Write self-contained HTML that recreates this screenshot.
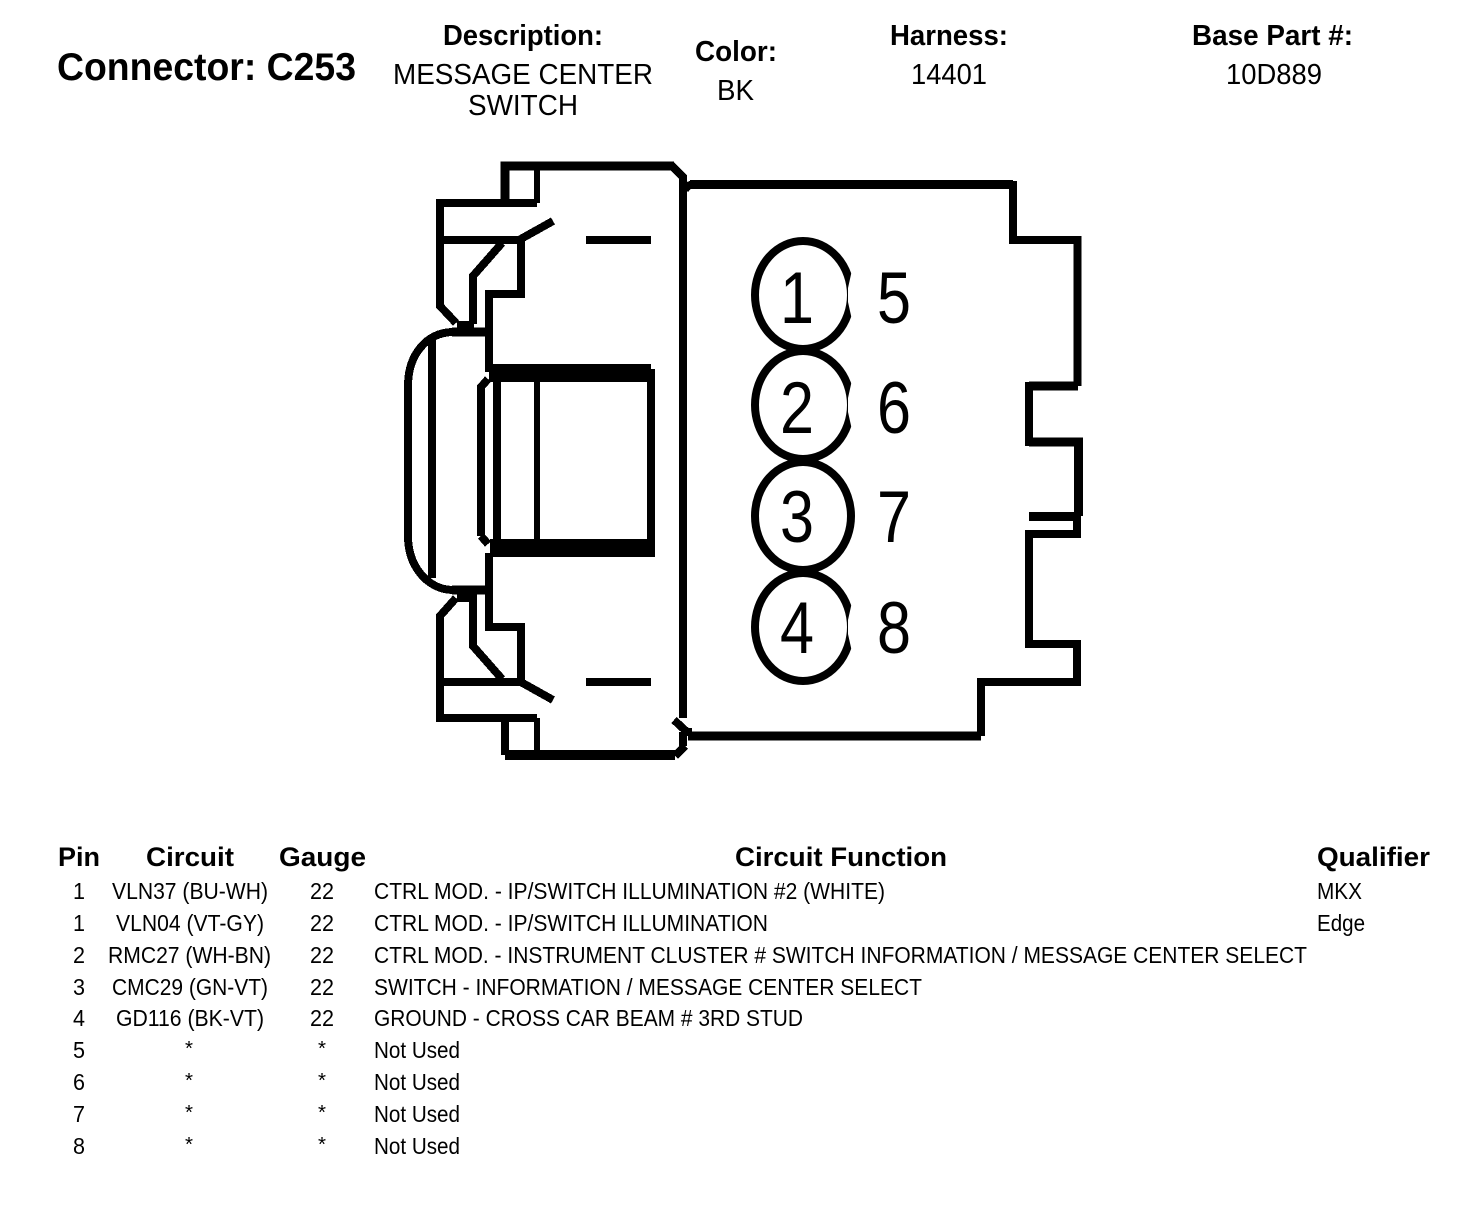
<!DOCTYPE html>
<html lang="en">
<head>
<meta charset="utf-8">
<title>Connector C253</title>
<style>
html,body{margin:0;padding:0;background:#fff;}
svg{display:block;}
text{font-family:"Liberation Sans",Arial,sans-serif;fill:#000;}
.b{font-weight:bold;}
.h{font-size:29px;}
.t{font-size:23px;}
.s{font-size:20px;}
.d{font-size:73px;}
</style>
</head>
<body>
<svg width="1472" height="1212" viewBox="0 0 1472 1212" xmlns="http://www.w3.org/2000/svg">
<rect width="1472" height="1212" fill="#fff"/>

<!-- Header -->
<text class="b" x="57" y="80" font-size="39" textLength="299" lengthAdjust="spacingAndGlyphs">Connector: C253</text>
<text class="b h" x="443" y="45" textLength="160" lengthAdjust="spacingAndGlyphs">Description:</text>
<text class="h" x="393" y="84" textLength="260" lengthAdjust="spacingAndGlyphs">MESSAGE CENTER</text>
<text class="h" x="468" y="115" textLength="110" lengthAdjust="spacingAndGlyphs">SWITCH</text>
<text class="b h" x="695" y="61" textLength="82" lengthAdjust="spacingAndGlyphs">Color:</text>
<text class="h" x="717" y="100" textLength="37" lengthAdjust="spacingAndGlyphs">BK</text>
<text class="b h" x="890" y="45" textLength="118" lengthAdjust="spacingAndGlyphs">Harness:</text>
<text class="h" x="911" y="84" textLength="76" lengthAdjust="spacingAndGlyphs">14401</text>
<text class="b h" x="1192" y="45" textLength="161" lengthAdjust="spacingAndGlyphs">Base Part #:</text>
<text class="h" x="1226" y="84" textLength="96" lengthAdjust="spacingAndGlyphs">10D889</text>

<!-- Connector outline -->
<g fill="none" stroke="#000" stroke-linejoin="miter" stroke-linecap="butt" shape-rendering="crispEdges">
  <!-- top -->
  <path stroke-width="9" d="M505,203 V166 H674"/>
  <path stroke-width="8" d="M671,165 L683,177 V718"/>
  <path stroke-width="6" d="M537,166 V203"/>
  <path stroke-width="8" d="M537,203 H440 V306 L456,323"/>
  <path stroke-width="8" d="M440,240 H521"/>
  <path stroke-width="8" d="M519,240 L553,221"/>
  <path stroke-width="8" d="M521,240 V294 H489 V372"/>
  <path stroke-width="8" d="M502,243 L473,276 V324"/>
  <rect x="457" y="321" width="17" height="9" fill="#000" stroke="none"/>
  <path stroke-width="9" d="M489,332 H452"/>
  <path stroke-width="8" d="M452,332 C427,333 408,354 408,386 V536 C408,566 427,589 452,590"/>
  <path stroke-width="8" d="M432,340 V578"/>
  <path stroke-width="9" d="M489,590 H452"/>

  <!-- dashes -->
  <path stroke-width="8" d="M586,240 H651"/>
  <path stroke-width="8" d="M586,682 H651"/>

  <!-- inner window -->
  <rect x="489" y="364" width="162" height="18" fill="#000" stroke="none"/>
  <rect x="490" y="539" width="165" height="18" fill="#000" stroke="none"/>
  <path stroke-width="8" d="M651,369 V552"/>
  <path stroke-width="8" d="M497,373 V548"/>
  <path stroke-width="6" d="M537,373 V548"/>
  <path stroke-width="8" d="M481,536 V387 L488,379"/>
  <path stroke-width="8" d="M481,536 L488,544"/>

  <!-- bottom -->
  <path stroke-width="8" d="M489,553 V627 H521 V682"/>
  <path stroke-width="8" d="M440,682 H521"/>
  <path stroke-width="8" d="M519,681 L553,700"/>
  <path stroke-width="8" d="M502,679 L473,646 V598"/>
  <rect x="457" y="593" width="20" height="9" fill="#000" stroke="none"/>
  <path stroke-width="8" d="M456,598 L440,616 V718 H537"/>
  <path stroke-width="8" d="M505,718 V755"/>
  <path stroke-width="6" d="M537,718 V755"/>
  <path stroke-width="10" d="M505,755 H675"/>
  <path stroke-width="8" d="M675,756 L685,746"/>
  <path stroke-width="8" d="M683,732 V746"/>
  <path stroke-width="8" d="M674,720 L687,732"/>
  <path stroke-width="8" d="M683,732 H692"/>

  <!-- right body -->
  <path stroke-width="9" d="M690,184.500 H1013"/>
  <path stroke-width="8" d="M685,191 Q686,184.500 694,184.500"/>
  <path stroke-width="8" d="M1013,181 V240 H1077.500 V386"/>
  <path stroke-width="9" d="M1078,386 H1029"/>
  <path stroke-width="8" d="M1029,382 V446"/>
  <path stroke-width="9" d="M1029,442 H1078.500 V516"/>
  <path stroke-width="9" d="M1029,516.500 H1081"/>
  <path stroke-width="8" d="M1077,516 V534 H1029 V644 H1077 V682 H981 V736"/>
  <path stroke-width="9" d="M981,736 H688"/>
</g>

<!-- Pin ovals -->
<g fill="none" stroke="#000" stroke-width="8">
  <ellipse cx="803" cy="295" rx="48" ry="54"/>
  <ellipse cx="803" cy="405" rx="48" ry="54"/>
  <ellipse cx="803" cy="516" rx="48" ry="54"/>
  <ellipse cx="803" cy="627" rx="48" ry="54"/>
</g>
<g fill="#fff" stroke="none">
  <polygon points="853,250 852,270 848,288 848,302 852,320 853,340 870,340 870,250"/>
  <polygon points="853,360 852,380 848,398 848,412 852,430 853,450 870,450 870,360"/>
  <polygon points="853,582 852,602 848,620 848,634 852,652 853,672 870,672 870,582"/>
</g>

<!-- Pin numbers -->
<g class="d" text-anchor="middle">
  <text class="d" x="797" y="323" textLength="34" lengthAdjust="spacingAndGlyphs">1</text>
  <text class="d" x="797" y="433" textLength="34" lengthAdjust="spacingAndGlyphs">2</text>
  <text class="d" x="797" y="542" textLength="34" lengthAdjust="spacingAndGlyphs">3</text>
  <text class="d" x="797" y="653" textLength="34" lengthAdjust="spacingAndGlyphs">4</text>
  <text class="d" x="894" y="323" textLength="34" lengthAdjust="spacingAndGlyphs">5</text>
  <text class="d" x="894" y="433" textLength="34" lengthAdjust="spacingAndGlyphs">6</text>
  <text class="d" x="894" y="542" textLength="34" lengthAdjust="spacingAndGlyphs">7</text>
  <text class="d" x="894" y="653" textLength="34" lengthAdjust="spacingAndGlyphs">8</text>
</g>

<!-- Table header -->
<text class="b" font-size="27" x="58" y="866" textLength="42" lengthAdjust="spacingAndGlyphs">Pin</text>
<text class="b" font-size="27" x="146" y="866" textLength="88" lengthAdjust="spacingAndGlyphs">Circuit</text>
<text class="b" font-size="27" x="279" y="866" textLength="87" lengthAdjust="spacingAndGlyphs">Gauge</text>
<text class="b" font-size="27" x="735" y="866" textLength="212" lengthAdjust="spacingAndGlyphs">Circuit Function</text>
<text class="b" font-size="27" x="1317" y="866" textLength="113" lengthAdjust="spacingAndGlyphs">Qualifier</text>

<!-- Table rows -->
<g class="t">
  <text class="t" x="73" y="899" textLength="12" lengthAdjust="spacingAndGlyphs">1</text>
  <text class="t" x="112" y="899" textLength="156" lengthAdjust="spacingAndGlyphs">VLN37 (BU-WH)</text>
  <text class="t" x="310" y="899" textLength="24" lengthAdjust="spacingAndGlyphs">22</text>
  <text class="t" x="374" y="899" textLength="511" lengthAdjust="spacingAndGlyphs">CTRL MOD. - IP/SWITCH ILLUMINATION #2 (WHITE)</text>
  <text class="t" x="1317" y="899" textLength="45" lengthAdjust="spacingAndGlyphs">MKX</text>

  <text class="t" x="73" y="931" textLength="12" lengthAdjust="spacingAndGlyphs">1</text>
  <text class="t" x="116" y="931" textLength="148" lengthAdjust="spacingAndGlyphs">VLN04 (VT-GY)</text>
  <text class="t" x="310" y="931" textLength="24" lengthAdjust="spacingAndGlyphs">22</text>
  <text class="t" x="374" y="931" textLength="394" lengthAdjust="spacingAndGlyphs">CTRL MOD. - IP/SWITCH ILLUMINATION</text>
  <text class="t" x="1317" y="931" textLength="48" lengthAdjust="spacingAndGlyphs">Edge</text>

  <text class="t" x="73" y="963" textLength="12" lengthAdjust="spacingAndGlyphs">2</text>
  <text class="t" x="108" y="963" textLength="163" lengthAdjust="spacingAndGlyphs">RMC27 (WH-BN)</text>
  <text class="t" x="310" y="963" textLength="24" lengthAdjust="spacingAndGlyphs">22</text>
  <text class="t" x="374" y="963" textLength="933" lengthAdjust="spacingAndGlyphs">CTRL MOD. - INSTRUMENT CLUSTER # SWITCH INFORMATION / MESSAGE CENTER SELECT</text>

  <text class="t" x="73" y="995" textLength="12" lengthAdjust="spacingAndGlyphs">3</text>
  <text class="t" x="112" y="995" textLength="156" lengthAdjust="spacingAndGlyphs">CMC29 (GN-VT)</text>
  <text class="t" x="310" y="995" textLength="24" lengthAdjust="spacingAndGlyphs">22</text>
  <text class="t" x="374" y="995" textLength="548" lengthAdjust="spacingAndGlyphs">SWITCH - INFORMATION / MESSAGE CENTER SELECT</text>

  <text class="t" x="73" y="1026" textLength="12" lengthAdjust="spacingAndGlyphs">4</text>
  <text class="t" x="116" y="1026" textLength="148" lengthAdjust="spacingAndGlyphs">GD116 (BK-VT)</text>
  <text class="t" x="310" y="1026" textLength="24" lengthAdjust="spacingAndGlyphs">22</text>
  <text class="t" x="374" y="1026" textLength="429" lengthAdjust="spacingAndGlyphs">GROUND - CROSS CAR BEAM # 3RD STUD</text>

  <text class="t" x="73" y="1058" textLength="12" lengthAdjust="spacingAndGlyphs">5</text>
  <text class="s" x="185" y="1055" textLength="8" lengthAdjust="spacingAndGlyphs">*</text>
  <text class="s" x="318" y="1055" textLength="8" lengthAdjust="spacingAndGlyphs">*</text>
  <text class="t" x="374" y="1058" textLength="86" lengthAdjust="spacingAndGlyphs">Not Used</text>

  <text class="t" x="73" y="1090" textLength="12" lengthAdjust="spacingAndGlyphs">6</text>
  <text class="s" x="185" y="1087" textLength="8" lengthAdjust="spacingAndGlyphs">*</text>
  <text class="s" x="318" y="1087" textLength="8" lengthAdjust="spacingAndGlyphs">*</text>
  <text class="t" x="374" y="1090" textLength="86" lengthAdjust="spacingAndGlyphs">Not Used</text>

  <text class="t" x="73" y="1122" textLength="12" lengthAdjust="spacingAndGlyphs">7</text>
  <text class="s" x="185" y="1119" textLength="8" lengthAdjust="spacingAndGlyphs">*</text>
  <text class="s" x="318" y="1119" textLength="8" lengthAdjust="spacingAndGlyphs">*</text>
  <text class="t" x="374" y="1122" textLength="86" lengthAdjust="spacingAndGlyphs">Not Used</text>

  <text class="t" x="73" y="1154" textLength="12" lengthAdjust="spacingAndGlyphs">8</text>
  <text class="s" x="185" y="1151" textLength="8" lengthAdjust="spacingAndGlyphs">*</text>
  <text class="s" x="318" y="1151" textLength="8" lengthAdjust="spacingAndGlyphs">*</text>
  <text class="t" x="374" y="1154" textLength="86" lengthAdjust="spacingAndGlyphs">Not Used</text>
</g>
</svg>
</body>
</html>
